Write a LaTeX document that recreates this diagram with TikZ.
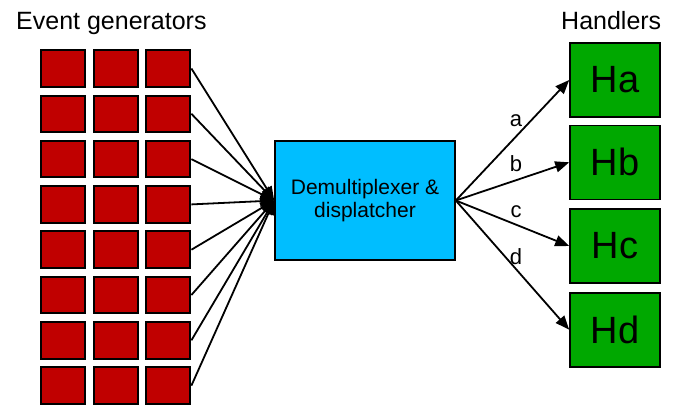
\documentclass[tikz,border=0pt]{standalone}
\usepackage{fontspec}
\setmainfont{Liberation Sans}
\usetikzlibrary{arrows.meta}
\definecolor{genred}{RGB}{192,0,0}
\definecolor{demuxblue}{RGB}{0,190,255}
\definecolor{handgreen}{RGB}{0,168,0}
\begin{document}
\begin{tikzpicture}[x=1pt,y=-1pt,
    every node/.style={font=\fontsize{22}{26}\selectfont},
    gen/.style={draw,line width=2pt,fill=genred,minimum width=44pt,minimum height=36.5pt,inner sep=0pt},
    demux/.style={draw,line width=1.6pt,fill=demuxblue,minimum width=180pt,minimum height=119.5pt,
        align=center,font=\fontsize{21}{23.5}\selectfont},
    handler/.style={draw,line width=1.6pt,fill=handgreen,minimum width=90pt,minimum height=74pt,
        font=\fontsize{38}{40}\selectfont},
    feed/.style={line width=1.8pt,-{Triangle[length=14pt,width=11pt]}},
    title/.style={anchor=base west,inner sep=0pt,font=\fontsize{25}{30}\selectfont}]
    \useasboundingbox (0,0) rectangle (679,405);
    \node[title] (gentitle) at (16,29.3) {Event generators};
    \node[title] (handtitle) at (561,29.3) {Handlers};
    % event generators
    \foreach \r in {1,...,8}
        \foreach \c in {1,2,3}
            \node[gen] (g\r\c) at ({63+52.7*(\c-1)},{68.5+45.3*(\r-1)}) {};
    \node[demux] (demux) at (365,200.5) {Demultiplexer \&\\displatcher};
    \foreach \r in {1,...,8}
        \draw[feed] (g\r3.east) -- (demux.west);
    % handlers
    \foreach \h/\t/\y/\l/\ly in {ha/Ha/80/a/121,hb/Hb/162.3/b/164,hc/Hc/246/c/212,hd/Hd/329.7/d/256.5} {
        \node[handler] (\h) at (615,\y) {\t};
        \draw[feed] (demux.east) -- (\h.west);
        \node (l\l) at (516,\ly) {\l};
    }
\end{tikzpicture}
\end{document}
